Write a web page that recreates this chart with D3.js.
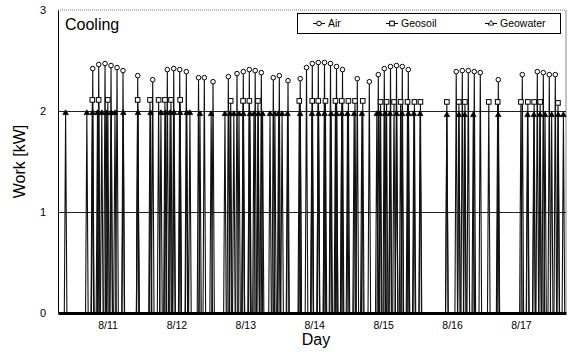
<!DOCTYPE html>
<html>
<head>
<meta charset="utf-8">
<script src="https://cdn.jsdelivr.net/npm/d3@7"></script>
<style>
  body { margin: 0; background: #fff; }
  text { font-family: Arial, "Liberation Sans", sans-serif; }
</style>
</head>
<body>
<div id="chart"></div>
<script>
// time in hours counted from 8/10 00:00, work in kW (peak of each on-cycle)
var airHours = [30.85, 32.93, 35.13, 37.22, 39.31, 41.40, 46.52, 51.74, 56.83, 59.06, 61.15, 63.45,
  67.70, 69.72, 72.75, 78.08, 81.10, 83.30, 85.39, 87.44, 89.57, 93.75, 95.84, 98.87,
  103.12, 105.31, 107.33, 109.42, 111.58, 113.67, 115.76, 117.85, 123.00, 127.19,
  130.32, 132.41, 134.57, 136.66, 138.68, 140.77, 157.46, 159.58, 161.67, 163.76, 165.85,
  172.12, 180.48, 185.70, 187.80, 189.88, 191.97];
var airKW = [2.42, 2.46, 2.47, 2.45, 2.43, 2.40, 2.35, 2.31, 2.41, 2.42, 2.41, 2.39,
  2.33, 2.33, 2.29, 2.34, 2.37, 2.39, 2.41, 2.40, 2.38, 2.33, 2.35, 2.30,
  2.32, 2.43, 2.47, 2.48, 2.48, 2.47, 2.44, 2.41, 2.32, 2.29,
  2.36, 2.42, 2.44, 2.45, 2.44, 2.41, 2.39, 2.40, 2.40, 2.39, 2.38,
  2.31, 2.36, 2.39, 2.38, 2.36, 2.36];

var soilHours = [30.7, 32.9, 36.1, 46.5, 50.8, 53.8, 56.0, 58.1, 61.3, 78.9, 83.2, 85.4, 88.4,
  102.8, 107.3, 109.4, 111.9, 115.4, 117.6, 119.9, 122.2, 124.9, 131.1, 133.2, 135.8, 138.1,
  140.5, 142.9, 145.0, 154.2, 158.4, 160.5, 168.8, 171.9, 180.0, 182.4, 184.6, 186.7, 192.9];
var soilKW = [2.11, 2.11, 2.11, 2.11, 2.11, 2.11, 2.11, 2.11, 2.11, 2.10, 2.10, 2.10, 2.10,
  2.10, 2.10, 2.10, 2.10, 2.10, 2.10, 2.10, 2.10, 2.10, 2.09, 2.09, 2.09, 2.09,
  2.09, 2.09, 2.09, 2.09, 2.09, 2.09, 2.09, 2.09, 2.09, 2.09, 2.09, 2.09, 2.08];

var waterHours = [21.4, 28.8, 30.8, 32.5, 34.0, 35.7, 37.3, 38.6, 41.5, 46.6,
  51.0, 54.6, 56.2, 57.8, 59.2, 61.3, 63.6, 64.7, 68.2, 72.1,
  76.9, 78.7, 80.0, 81.8, 83.3, 85.6, 87.0, 88.5, 90.0, 92.6,
  94.3, 95.6, 96.8, 98.7, 103.1, 107.2, 109.5, 111.6, 113.9, 115.8,
  117.6, 119.6, 121.9, 124.6, 129.8, 130.9, 132.7, 134.4, 136.7, 138.6,
  140.8, 142.7, 144.9, 154.2, 158.4, 160.4, 163.4, 172.1, 182.3, 184.5,
  186.6, 188.4, 190.7, 193.0, 194.8];
var waterKW = [1.98, 1.98, 1.98, 1.98, 1.98, 1.98, 1.98, 1.98, 1.98, 1.98,
  1.98, 1.98, 1.98, 1.98, 1.98, 1.98, 1.98, 1.98, 1.97, 1.97,
  1.97, 1.97, 1.97, 1.97, 1.97, 1.97, 1.97, 1.97, 1.97, 1.97,
  1.97, 1.97, 1.97, 1.97, 1.97, 1.97, 1.97, 1.97, 1.97, 1.97,
  1.97, 1.97, 1.97, 1.97, 1.97, 1.97, 1.97, 1.97, 1.97, 1.97,
  1.97, 1.97, 1.97, 1.96, 1.96, 1.96, 1.96, 1.96, 1.96, 1.96,
  1.96, 1.96, 1.96, 1.96, 1.96];

var dayLabels = ["8/11", "8/12", "8/13", "8/14", "8/15", "8/16", "8/17"];
var dayNoons = [36, 60, 84, 108, 132, 156, 180];
var yTicks = [0, 1, 2, 3];
var seriesNames = ["Air", "Geosoil", "Geowater"];

var margin = { left: 58, right: 6, top: 10, bottom: 42 };
var W = 572, H = 355;
var width = W - margin.left - margin.right;
var height = H - margin.top - margin.bottom;

var svg = d3.select("#chart").append("svg")
  .attr("width", W)
  .attr("height", H);

var g = svg.append("g")
  .attr("transform", "translate(" + margin.left + "," + margin.top + ")");

var x = d3.scaleLinear().domain([18.75, 195.7]).range([0, width]);
var y = d3.scaleLinear().domain([0, 3]).range([height, 0]);

// plot frame: dotted top, grey right side
g.append("line").attr("x1", 0).attr("x2", width).attr("y1", 0).attr("y2", 0)
  .attr("stroke", "#777").attr("stroke-dasharray", "1,1");
g.append("line").attr("x1", width).attr("x2", width).attr("y1", 0).attr("y2", height)
  .attr("stroke", "#888");

// gridlines at 1 and 2
g.selectAll(".grid").data([1, 2]).enter().append("line")
  .attr("class", "grid")
  .attr("x1", 0).attr("x2", width)
  .attr("y1", function (d) { return y(d) + 0.5; })
  .attr("y2", function (d) { return y(d) + 0.5; })
  .attr("stroke", "#222").attr("stroke-width", 1);

// spikes: every on-cycle goes 0 -> peak -> 0
var spike = 0.45;
function buildSpikes(hours, vals) {
  var pts = [];
  hours.forEach(function (h, i) {
    pts.push([h - spike, 0], [h, vals[i]], [h + spike, 0]);
  });
  return pts;
}

var line = d3.line()
  .x(function (d) { return x(d[0]); })
  .y(function (d) { return y(d[1]); });

var series = [
  { name: "Geowater", hours: waterHours, vals: waterKW },
  { name: "Geosoil", hours: soilHours, vals: soilKW },
  { name: "Air", hours: airHours, vals: airKW }
];

series.forEach(function (s) {
  g.append("path")
    .datum(buildSpikes(s.hours, s.vals))
    .attr("fill", "none")
    .attr("stroke", "#111")
    .attr("stroke-width", 1.1)
    .attr("d", line);
});

function drawMarker(sel, name, legendMark) {
  if (name === "Air") {
    sel.append("circle").attr("r", 2.3)
      .attr("fill", "#fff").attr("stroke", "#000").attr("stroke-width", 1);
  } else if (name === "Geosoil") {
    sel.append("rect").attr("x", -2.3).attr("y", -2.3).attr("width", 4.6).attr("height", 4.6)
      .attr("fill", "#fff").attr("stroke", "#000").attr("stroke-width", 1);
  } else {
    sel.append("path").attr("d", d3.symbol(d3.symbolTriangle).size(13)())
      .attr("fill", legendMark ? "#fff" : "#000").attr("stroke", "#000").attr("stroke-width", 0.8);
  }
}

series.forEach(function (s) {
  s.hours.forEach(function (h, i) {
    var m = g.append("g")
      .attr("transform", "translate(" + x(h) + "," + y(s.vals[i]) + ")");
    drawMarker(m, s.name, false);
  });
});

// axes
var xAxis = g.append("g")
  .attr("transform", "translate(0," + height + ")")
  .call(d3.axisBottom(x).tickValues(dayNoons)
    .tickFormat(function (d, i) { return dayLabels[i]; })
    .tickSize(0).tickPadding(9));
xAxis.select(".domain").attr("stroke", "#000").attr("stroke-width", 3);
xAxis.selectAll("text").attr("font-size", "10.5px").attr("fill", "#000")
  .style("font-family", "Arial, 'Liberation Sans', sans-serif");

var yAxis = g.append("g")
  .call(d3.axisLeft(y).tickValues(yTicks).tickFormat(d3.format("d"))
    .tickSize(0).tickPadding(12));
yAxis.select(".domain").attr("stroke", "#000");
yAxis.selectAll("text").attr("font-size", "11px").attr("fill", "#000")
  .style("font-family", "Arial, 'Liberation Sans', sans-serif");

// axis titles
svg.append("text")
  .attr("x", 316).attr("y", 345)
  .attr("text-anchor", "middle")
  .attr("font-size", "16px")
  .text("Day");

svg.append("text")
  .attr("transform", "translate(25," + (margin.top + height / 2) + ") rotate(-90)")
  .attr("text-anchor", "middle")
  .attr("font-size", "16px")
  .text("Work [kW]");

// panel label
svg.append("text")
  .attr("x", 65).attr("y", 30)
  .attr("font-size", "16px")
  .text("Cooling");

// legend
var legend = svg.append("g");
legend.append("rect")
  .attr("x", 297.5).attr("y", 13.5).attr("width", 263).attr("height", 20)
  .attr("fill", "#fff").attr("stroke", "#000");
var legX = [313, 386, 485];
seriesNames.forEach(function (name, i) {
  var it = legend.append("g").attr("transform", "translate(" + legX[i] + ",23.5)");
  it.append("line").attr("x1", 0).attr("x2", 12).attr("stroke", "#000");
  var m = it.append("g").attr("transform", "translate(6,0)");
  drawMarker(m, name, true);
  it.append("text").attr("x", 15).attr("y", 3.8)
    .attr("font-size", "10.5px").text(name);
});
</script>
</body>
</html>
